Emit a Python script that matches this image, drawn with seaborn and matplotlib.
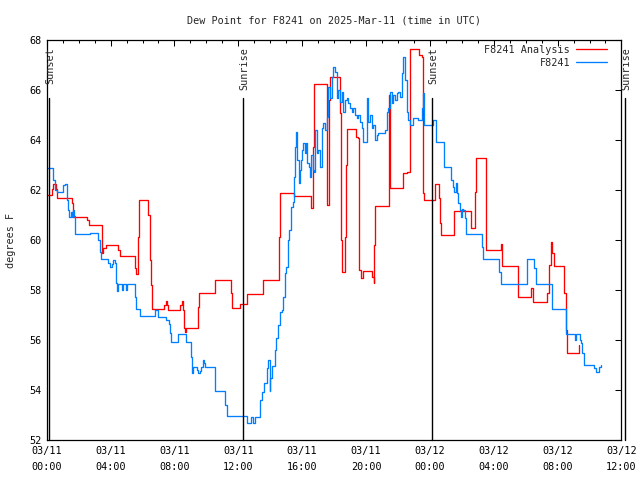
import numpy as np
import pandas as pd
import matplotlib
matplotlib.use("Agg")
import matplotlib.pyplot as plt
import matplotlib.dates as mdates
import seaborn as sns

# ---------------- data (hours after 2025-03-11 00:00 UTC, degrees F) ----------------
analysis_hours = [0.0, 0.31, 0.42, 0.56, 0.66, 1.56, 1.62, 2.5, 2.66, 3.48, 3.54, 3.69,
                  4.48, 4.62, 5.56, 5.62, 5.73, 5.79, 6.35, 6.44, 6.5, 6.56, 6.62,
                  7.33, 7.5, 7.56, 7.62, 8.37, 8.46, 8.54, 8.6, 8.65, 8.75, 9.48, 9.56,
                  10.56, 11.56, 11.62, 12.08, 12.54, 13.54, 14.54, 14.62, 15.52, 16.56,
                  16.71, 16.77, 17.54, 17.71, 17.75, 18.39, 18.45, 18.5, 18.71, 18.75,
                  18.79, 19.37, 19.52, 19.58, 19.69, 19.83, 20.37, 20.48, 20.51, 20.54,
                  21.46, 21.52, 22.29, 22.56, 22.77, 23.33, 23.5, 23.54, 23.64, 24.16,
                  24.31, 24.58, 24.65, 24.69, 25.54, 26.56, 26.81, 26.87, 27.54, 28.44,
                  28.52, 29.54, 30.35, 30.44, 31.35, 31.44, 31.56, 31.65, 31.77, 32.39,
                  32.5, 32.55, 32.6, 33.37]
analysis_values = [61.8, 62.04, 62.23, 62.04, 61.67, 61.47, 60.93, 60.8, 60.6, 59.47, 59.7, 59.8,
                   59.6, 59.36, 58.9, 58.63, 60.13, 61.59, 61.0, 59.8, 59.2, 58.2, 57.23,
                   57.4, 57.57, 57.4, 57.2, 57.4, 57.57, 57.2, 56.47, 56.33, 56.47, 57.33, 57.9,
                   58.4, 57.87, 57.27, 57.44, 57.83, 58.4, 60.13, 61.87, 61.76, 61.27,
                   63.73, 66.23, 61.4, 65.6, 66.53, 65.07, 60.0, 58.73, 60.13, 63.0,
                   64.43, 64.13, 64.07, 58.8, 58.47, 58.76, 58.53, 58.27, 59.8, 61.37,
                   65.8, 62.07, 62.67, 62.73, 67.63, 67.4, 67.33, 61.87, 61.6, 61.59,
                   62.24, 61.7, 60.67, 60.2, 61.16, 60.47, 61.93, 63.27, 59.6, 59.84,
                   58.96, 57.73, 58.07, 57.53, 57.87, 59.0, 59.93, 59.47, 58.96, 57.9,
                   56.8, 56.4, 55.47, 55.8]

station_hours = [0.0, 0.42, 0.52, 0.62, 1.04, 1.14, 1.25, 1.31, 1.41, 1.5, 1.56, 1.62, 1.73,
                 1.79, 2.7, 3.23, 3.35, 3.4, 3.81, 3.94, 4.06, 4.17, 4.27, 4.31, 4.37, 4.4,
                 4.48, 4.69, 4.79, 4.96, 5.04, 5.52, 5.62, 5.83, 6.79, 6.98, 7.5, 7.65, 7.71,
                 7.81, 8.23, 8.75, 9.06, 9.08, 9.17, 9.41, 9.48, 9.62, 9.69, 9.79, 9.88, 9.94,
                 10.56, 11.19, 11.31, 12.54, 12.81, 12.9, 13.06, 13.33, 13.48, 13.58, 13.81,
                 13.85, 13.96, 14.0, 14.1, 14.31, 14.37, 14.48, 14.62, 14.73, 14.79, 14.9,
                 15.0, 15.1, 15.2, 15.31, 15.42, 15.48, 15.58, 15.62, 15.69, 15.79, 15.88,
                 15.94, 16.0, 16.08, 16.15, 16.25, 16.31, 16.42, 16.5, 16.58, 16.67, 16.77,
                 16.83, 16.92, 17.02, 17.13, 17.23, 17.33, 17.44, 17.54, 17.65, 17.75, 17.85,
                 17.96, 18.06, 18.17, 18.27, 18.37, 18.48, 18.58, 18.69, 18.79, 18.9, 19.0,
                 19.1, 19.21, 19.31, 19.42, 19.52, 19.63, 19.73, 19.83, 20.04, 20.15, 20.25,
                 20.35, 20.46, 20.56, 20.67, 20.77, 21.19, 21.29, 21.4, 21.5, 21.6, 21.71,
                 21.81, 21.92, 22.02, 22.13, 22.23, 22.33, 22.44, 22.54, 22.65, 22.75, 22.96,
                 23.27, 23.48, 23.58, 23.65, 24.21, 24.37, 24.91, 25.35, 25.42, 25.5, 25.62,
                 25.73, 25.77, 25.88, 25.94, 26.0, 26.08, 26.19, 26.29, 27.29, 27.35, 28.33,
                 28.44, 30.1, 30.51, 30.62, 31.66, 32.5, 33.08, 33.16, 33.39, 33.48, 33.54,
                 33.64, 34.12, 34.27, 34.41, 34.58, 34.69]
station_values = [62.9, 62.4, 62.0, 61.93, 62.2, 62.24, 61.6, 61.2, 60.93, 61.13, 60.93, 61.2,
                  60.97, 60.23, 60.27, 60.0, 59.53, 59.23, 59.1, 58.93, 59.04, 59.2, 59.07,
                  58.6, 58.3, 57.96, 58.23, 58.0, 58.23, 58.0, 58.23, 57.73, 57.23, 56.96,
                  57.2, 56.93, 56.8, 56.64, 56.27, 55.93, 56.23, 55.93, 55.31, 54.67, 54.93,
                  54.8, 54.67, 54.76, 54.93, 55.2, 55.07, 54.93, 53.96, 53.4, 52.96, 52.67,
                  52.93, 52.67, 52.93, 53.6, 53.93, 54.27, 54.87, 55.2, 53.96, 54.47, 54.96,
                  55.6, 56.07, 56.6, 57.13, 57.2, 57.73, 58.67, 58.93, 60.0, 60.4, 61.33,
                  61.53, 62.53, 63.73, 64.33, 63.2, 62.27, 62.8, 63.2, 63.6, 63.87, 63.47,
                  63.87, 63.07, 62.93, 62.53, 63.4, 62.8, 62.73, 64.4, 63.47, 63.6, 62.93,
                  64.47, 64.67, 64.4, 64.93, 66.13, 65.67, 66.53, 66.93, 66.73, 65.67, 66.0,
                  65.53, 65.93, 65.13, 65.6, 65.67, 65.47, 65.27, 65.13, 65.27, 65.0, 64.87,
                  65.0, 64.73, 64.47, 63.93, 65.67, 64.73, 65.0, 64.47, 64.6, 64.0, 64.2,
                  64.27, 64.4, 65.13, 65.27, 65.93, 65.47, 65.8, 65.6, 65.87, 65.93, 65.73,
                  66.67, 67.33, 66.4, 65.13, 64.8, 64.6, 64.9, 64.8, 65.27, 65.87, 64.6,
                  64.8, 63.93, 62.93, 62.4, 62.13, 61.93, 62.27, 61.87, 61.47, 61.2, 60.93,
                  61.23, 61.2, 60.87, 60.23, 59.73, 59.23, 58.73, 58.23, 59.23, 58.87, 58.23,
                  57.23, 56.23, 56.0, 56.23, 56.0, 55.87, 55.47, 55.0, 55.0, 54.87, 54.73,
                  54.93, 55.0]

sun_events = ["Sunset", "Sunrise", "Sunset", "Sunrise"]
sun_hours = [0.17, 12.28, 24.15, 36.2]

series_labels = ["F8241 Analysis", "F8241"]
series_colors = ["#ff0000", "#0080ff"]

title = "Dew Point for F8241 on 2025-Mar-11 (time in UTC)"
y_label = "degrees F"
y_ticks = [52, 54, 56, 58, 60, 62, 64, 66, 68]

base = pd.Timestamp("2025-03-11 00:00")

def to_time(hours):
    return base + pd.to_timedelta(np.array(hours), unit="h")

df_a = pd.DataFrame({"time": to_time(analysis_hours), "value": analysis_values})
df_s = pd.DataFrame({"time": to_time(station_hours), "value": station_values})

# ---------------- styling ----------------
sns.set_style("white")
plt.rcParams["font.family"] = ["DejaVu Sans Mono", "DejaVu Sans"]
fs = 7.3

fig = plt.figure(figsize=(6.4, 4.8), dpi=100)
ax = fig.add_axes([0.073, 0.0833, 0.898, 0.8333])

sns.lineplot(data=df_a, x="time", y="value", ax=ax, color=series_colors[0],
             linewidth=0.95, drawstyle="steps-post", estimator=None, sort=False,
             label=series_labels[0])
sns.lineplot(data=df_s, x="time", y="value", ax=ax, color=series_colors[1],
             linewidth=0.95, drawstyle="steps-post", estimator=None, sort=False,
             label=series_labels[1])

ax.set_xlim(base, base + pd.Timedelta(hours=36))
ax.set_ylim(52, 68)
ax.set_yticks(y_ticks)

ax.xaxis.set_major_locator(mdates.HourLocator(byhour=range(0, 24, 4)))
ax.xaxis.set_minor_locator(mdates.HourLocator())
ax.xaxis.set_major_formatter(mdates.DateFormatter("%m/%d\n%H:%M"))

ax.tick_params(axis="both", which="both", direction="in", top=True, right=True,
               labelsize=fs, width=0.75, colors="black")
ax.tick_params(axis="both", which="major", length=4.5, pad=4)
ax.tick_params(axis="x", which="minor", length=2.5)
for lab in ax.get_xticklabels():
    lab.set_linespacing(1.75)
for s in ax.spines.values():
    s.set_linewidth(0.9)
    s.set_color("black")

ax.set_xlabel("")
ax.set_ylabel(y_label, fontsize=fs)
ax.yaxis.set_label_coords(-0.053, 0.5)
fig.text(0.522, 0.958, title, ha="center", va="center", fontsize=fs)

# sunrise / sunset markers
for name, h in zip(sun_events, sun_hours):
    t = base + pd.Timedelta(hours=h)
    ax.plot([t, t], [52, 65.68], color="black", linewidth=1.0, clip_on=False)
    ax.text(t + pd.Timedelta(minutes=5), 67.72, name, rotation=90, ha="center",
            va="top", fontsize=fs, clip_on=False)

leg = ax.legend(loc="upper right", frameon=False, fontsize=fs, markerfirst=False,
                handlelength=3.0, handletextpad=0.6, labelspacing=0.3,
                borderaxespad=0.2, bbox_to_anchor=(0.985, 1.003))

fig.savefig("out.png", dpi=100)
